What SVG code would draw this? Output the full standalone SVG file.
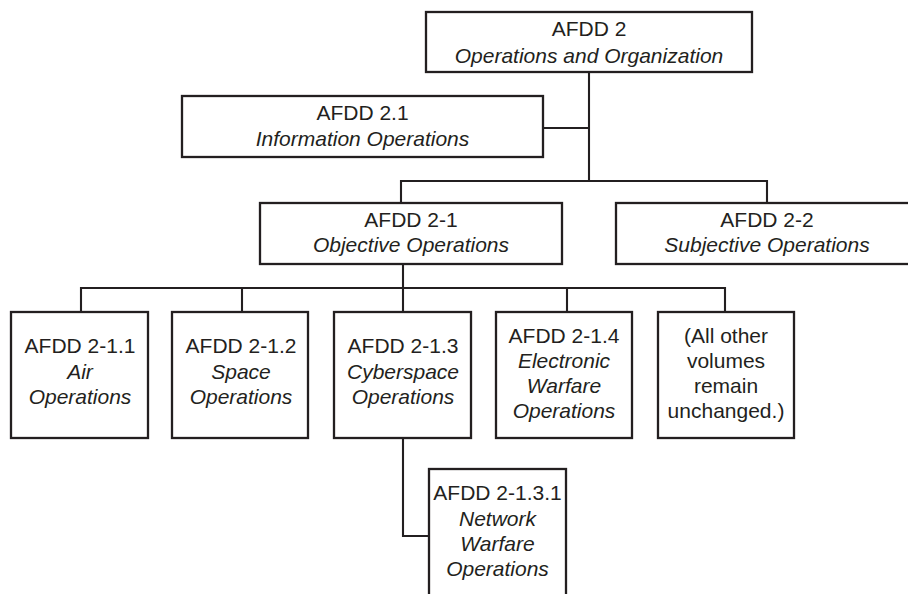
<svg xmlns="http://www.w3.org/2000/svg" width="908" height="594" viewBox="0 0 908 594">
<style>
.box{fill:#fff;stroke:#231f20;stroke-width:2.3}
.con{fill:none;stroke:#231f20;stroke-width:2.1}
text{font-family:"Liberation Sans",Arial,Helvetica,sans-serif;font-size:21px;fill:#231f20;text-anchor:middle}
.i{font-style:italic}
</style>
<rect width="908" height="594" fill="#fff"/>
<g id="connectors">
<path class="con" d="M589 72V181"/>
<path class="con" d="M543 128H589"/>
<path class="con" d="M401 203V181H767V203"/>
<path class="con" d="M403 264V288"/>
<path class="con" d="M81 312V288H725V312"/>
<path class="con" d="M242 288V312"/>
<path class="con" d="M403 288V312"/>
<path class="con" d="M567 288V312"/>
<path class="con" d="M403 438V536H429"/>
</g>
<g id="afdd2">
<rect class="box" x="426" y="12" width="326" height="60"/>
<text x="589" y="36">AFDD 2</text>
<text class="i" x="589" y="63">Operations and Organization</text>
</g>
<g id="afdd2_1dot">
<rect class="box" x="182" y="96" width="361" height="61"/>
<text x="362.5" y="120">AFDD 2.1</text>
<text class="i" x="362.5" y="146">Information Operations</text>
</g>
<g id="afdd2-1">
<rect class="box" x="260" y="203" width="302" height="61"/>
<text x="411" y="227">AFDD 2-1</text>
<text class="i" x="411" y="252">Objective Operations</text>
</g>
<g id="afdd2-2">
<rect class="box" x="616" y="203" width="310" height="61"/>
<text x="767" y="227">AFDD 2-2</text>
<text class="i" x="767" y="252">Subjective Operations</text>
</g>
<g id="afdd2-1.1">
<rect class="box" x="11" y="312" width="137" height="126"/>
<text x="80" y="353">AFDD 2-1.1</text>
<text class="i" x="80" y="379">Air</text>
<text class="i" x="80" y="404">Operations</text>
</g>
<g id="afdd2-1.2">
<rect class="box" x="172" y="312" width="136" height="126"/>
<text x="241" y="353">AFDD 2-1.2</text>
<text class="i" x="241" y="379">Space</text>
<text class="i" x="241" y="404">Operations</text>
</g>
<g id="afdd2-1.3">
<rect class="box" x="334" y="312" width="137" height="126"/>
<text x="403" y="353">AFDD 2-1.3</text>
<text class="i" x="403" y="379">Cyberspace</text>
<text class="i" x="403" y="404">Operations</text>
</g>
<g id="afdd2-1.4">
<rect class="box" x="496" y="312" width="136" height="126"/>
<text x="564" y="343">AFDD 2-1.4</text>
<text class="i" x="564" y="368">Electronic</text>
<text class="i" x="564" y="393">Warfare</text>
<text class="i" x="564" y="418">Operations</text>
</g>
<g id="others">
<rect class="box" x="658" y="312" width="136" height="126"/>
<text x="726" y="343">(All other</text>
<text x="726" y="368">volumes</text>
<text x="726" y="393">remain</text>
<text x="726" y="418">unchanged.)</text>
</g>
<g id="afdd2-1.3.1">
<rect class="box" x="429" y="469" width="137" height="140"/>
<text x="497.5" y="500">AFDD 2-1.3.1</text>
<text class="i" x="497.5" y="526">Network</text>
<text class="i" x="497.5" y="551">Warfare</text>
<text class="i" x="497.5" y="576">Operations</text>
</g>
</svg>
